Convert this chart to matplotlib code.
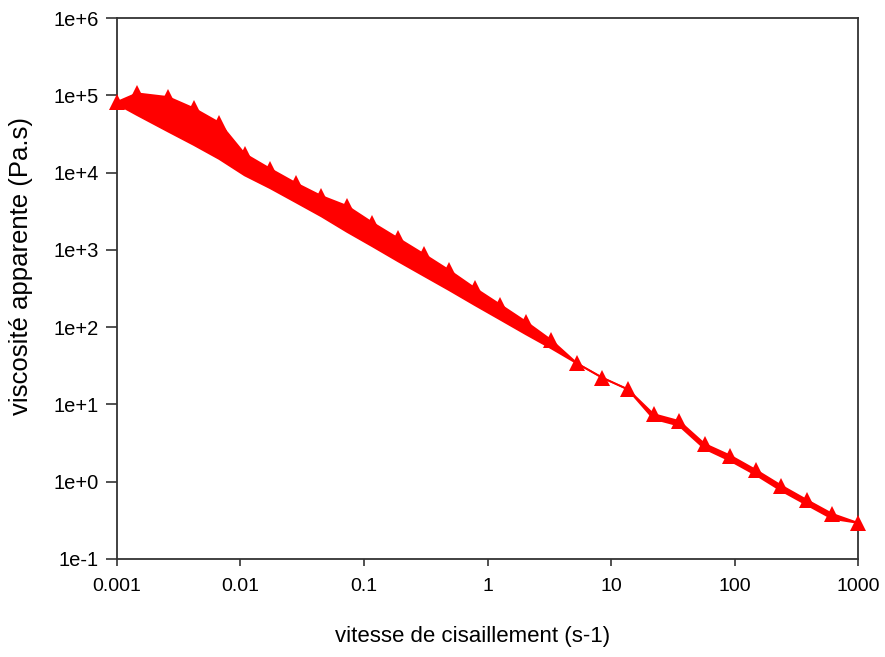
import matplotlib
matplotlib.use("Agg")
import matplotlib.pyplot as plt
from matplotlib.ticker import FixedLocator, FixedFormatter, NullLocator

plt.rcParams['font.family'] = ['Liberation Sans', 'DejaVu Sans']

# Shear rate (s-1) at each measurement step
shear_rate = [0.001, 0.00145, 0.00259, 0.00418, 0.00672, 0.0108, 0.0174, 0.0281,
              0.0452, 0.0728, 0.117, 0.189, 0.304, 0.489, 0.788, 1.27, 2.04, 3.29,
              5.30, 8.53, 13.7, 22.1, 35.6, 57.4, 92.4, 149, 240, 386, 621, 1000]

# Apparent viscosity (Pa.s), increasing shear ramp
visc_up = [8.2e4, 1.06e5, 9.5e4, 6.8e4, 4.43e4, 1.75e4, 1.12e4, 7.3e3,
           4.98e3, 3.7e3, 2.25e3, 1.41e3, 885, 545, 321, 195, 118, 67.8,
           34.1, 22.2, 15.7, 7.5, 6.1, 3.08, 2.18, 1.42, 0.89, 0.58, 0.383, 0.293]

# Apparent viscosity (Pa.s), decreasing shear ramp
visc_down = [7.7e4, 5.56e4, 3.40e4, 2.28e4, 1.50e4, 9.2e3, 6.27e3, 4.12e3,
             2.71e3, 1.71e3, 1.11e3, 710, 462, 301, 193, 125, 81, 53,
             33.9, 22.0, 15.6, 6.5, 5.3, 2.66, 1.86, 1.22, 0.76, 0.50, 0.33, 0.293]

y_ticks = [1e-1, 1e0, 1e1, 1e2, 1e3, 1e4, 1e5, 1e6]
y_tick_labels = ['1e-1', '1e+0', '1e+1', '1e+2', '1e+3', '1e+4', '1e+5', '1e+6']
x_ticks = [0.001, 0.01, 0.1, 1, 10, 100, 1000]
x_tick_labels = ['0.001', '0.01', '0.1', '1', '10', '100', '1000']

red = '#FF0000'

fig = plt.figure(figsize=(8.85, 6.57), dpi=100)
ax = fig.add_axes([0.1322, 0.1492, 0.8373, 0.8234])
ax.set_xscale('log')
ax.set_yscale('log')

# Hysteresis loop: area enclosed between the two ramps
loop_x = shear_rate + shear_rate[::-1]
loop_y = visc_up + visc_down[::-1]
ax.fill(loop_x, loop_y, color=red, lw=0, zorder=2)
ax.plot(shear_rate, visc_down, color=red, lw=1.3, zorder=3)
ax.plot(shear_rate, visc_up, color=red, lw=1.3, marker='^', markersize=11,
        markeredgewidth=0, zorder=4, clip_on=False)

ax.set_xlim(0.001, 1000)
ax.set_ylim(1e-1, 1e6)

ax.xaxis.set_major_locator(FixedLocator(x_ticks))
ax.xaxis.set_major_formatter(FixedFormatter(x_tick_labels))
ax.xaxis.set_minor_locator(NullLocator())
ax.yaxis.set_major_locator(FixedLocator(y_ticks))
ax.yaxis.set_major_formatter(FixedFormatter(y_tick_labels))
ax.yaxis.set_minor_locator(NullLocator())

for s in ax.spines.values():
    s.set_color('#333333')
    s.set_linewidth(1.3)

ax.tick_params(axis='y', direction='out', length=8, width=1.2, color='#333333',
               labelsize=14.5, pad=5)
ax.tick_params(axis='x', direction='out', length=5, width=1.2, color='#333333',
               labelsize=14, pad=9)

ax.set_xlabel('vitesse de cisaillement (s-1)', fontsize=16)
ax.set_ylabel('viscosité apparente (Pa.s)', fontsize=18.5)
ax.xaxis.set_label_coords(0.480, -0.123)
ax.yaxis.set_label_coords(-0.113, 0.541)

fig.savefig('out.png', dpi=100)
